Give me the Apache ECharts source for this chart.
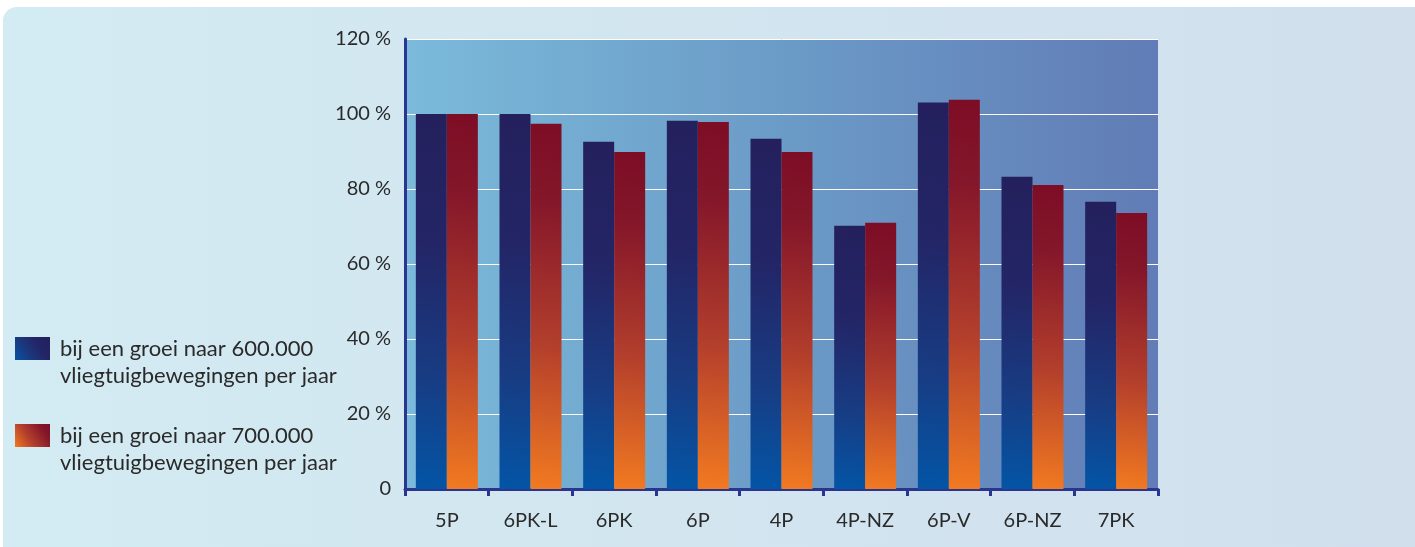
<!DOCTYPE html>
<html>
<head>
<meta charset="utf-8">
<script src="https://cdn.jsdelivr.net/npm/echarts@6/dist/echarts.min.js"></script>
<style>
  html, body { margin: 0; padding: 0; background: #ffffff; }
  #chart { width: 1415px; height: 547px; }
</style>
</head>
<body>
<div id="chart"></div>
<script>
// Runway-configuration variants along the x axis
const categories = ['5P', '6PK-L', '6PK', '6P', '4P', '4P-NZ', '6P-V', '6P-NZ', '7PK'];

// Relative capacity (%) per configuration, for two traffic-growth scenarios
const growth600k = [100, 100, 92.6, 98.2, 93.4, 70.2, 103.1, 83.3, 76.6];
const growth700k = [100, 97.4, 89.9, 97.9, 89.9, 71.0, 103.8, 81.1, 73.6];

const seriesNames = [
  'bij een groei naar 600.000\nvliegtuigbewegingen per jaar',
  'bij een groei naar 700.000\nvliegtuigbewegingen per jaar'
];

// Value axis ticks (percent)
const yTicks = [0, 20, 40, 60, 80, 100, 120];

const FONT = 'Lato';
const TEXT = '#2a2a2a';
const AXIS = '#29358f';

function diag(stops) {
  return new echarts.graphic.LinearGradient(1, 0, 0, 1,
    stops.map(s => ({ offset: s[0], color: s[1] })));
}

const blueFill = diag([[0, '#24205d'], [0.35, '#232566'], [0.7, '#183c83'], [1, '#0355a6']]);
const redFill = diag([[0, '#7c0d25'], [0.22, '#85172a'], [0.6, '#b23e2c'], [1, '#f27a21']]);

const chart = echarts.init(document.getElementById('chart'), null, { renderer: 'canvas' });

// Legend text sits with its first line level with the swatch:
// a leading empty line moves the two-line label down by one line.
const legendText = {
  fontFamily: FONT,
  fontSize: 22,
  color: TEXT,
  lineHeight: 27,
  padding: [0, 0, 0, 5]
};
const legendFormatter = name => '\n' + name;

chart.setOption({
  animation: false,
  backgroundColor: '#ffffff',
  graphic: {
    elements: [{
      type: 'rect',
      z: -100,
      silent: true,
      shape: { x: 3, y: 7, width: 1430, height: 560, r: [14, 0, 0, 14] },
      style: {
        fill: new echarts.graphic.LinearGradient(0, 0, 1, 0, [
          { offset: 0, color: '#d3ebf2' },
          { offset: 1, color: '#d1dfed' }
        ])
      }
    }]
  },
  grid: {
    left: 405,
    right: 257,
    top: 39,
    bottom: 58,
    show: true,
    borderWidth: 0,
    backgroundColor: new echarts.graphic.LinearGradient(0, 0, 1, 0, [
      { offset: 0, color: '#7bbada' },
      { offset: 0.5, color: '#6b9bc7' },
      { offset: 1, color: '#617cb6' }
    ])
  },
  legend: [
    {
      data: [seriesNames[0]],
      orient: 'vertical',
      left: 15,
      top: 308,
      padding: 0,
      icon: 'rect',
      itemWidth: 35,
      itemHeight: 23,
      selectedMode: false,
      formatter: legendFormatter,
      textStyle: legendText
    },
    {
      data: [seriesNames[1]],
      orient: 'vertical',
      left: 15,
      top: 395,
      padding: 0,
      icon: 'rect',
      itemWidth: 35,
      itemHeight: 23,
      selectedMode: false,
      formatter: legendFormatter,
      textStyle: legendText
    }
  ],
  xAxis: {
    type: 'category',
    data: categories,
    axisLine: { lineStyle: { color: AXIS, width: 3 } },
    axisTick: { show: true, length: 7, lineStyle: { color: AXIS, width: 3 } },
    axisLabel: { fontFamily: FONT, fontSize: 20, color: TEXT, margin: 22 },
    splitLine: { show: false }
  },
  yAxis: {
    type: 'value',
    min: yTicks[0],
    max: yTicks[yTicks.length - 1],
    interval: yTicks[1] - yTicks[0],
    axisLine: { show: true, lineStyle: { color: AXIS, width: 3 } },
    axisTick: { show: false },
    axisLabel: {
      fontFamily: FONT,
      fontSize: 20,
      color: TEXT,
      margin: 14,
      formatter: v => (v === 0 ? '0' : v + ' %')
    },
    splitLine: { show: true, lineStyle: { color: '#ffffff', width: 1 } }
  },
  series: [
    {
      name: seriesNames[0],
      type: 'bar',
      data: growth600k,
      barWidth: 31,
      barGap: '0%',
      itemStyle: { color: blueFill }
    },
    {
      name: seriesNames[1],
      type: 'bar',
      data: growth700k,
      barWidth: 31,
      barGap: '0%',
      itemStyle: { color: redFill }
    }
  ]
});
</script>
</body>
</html>
